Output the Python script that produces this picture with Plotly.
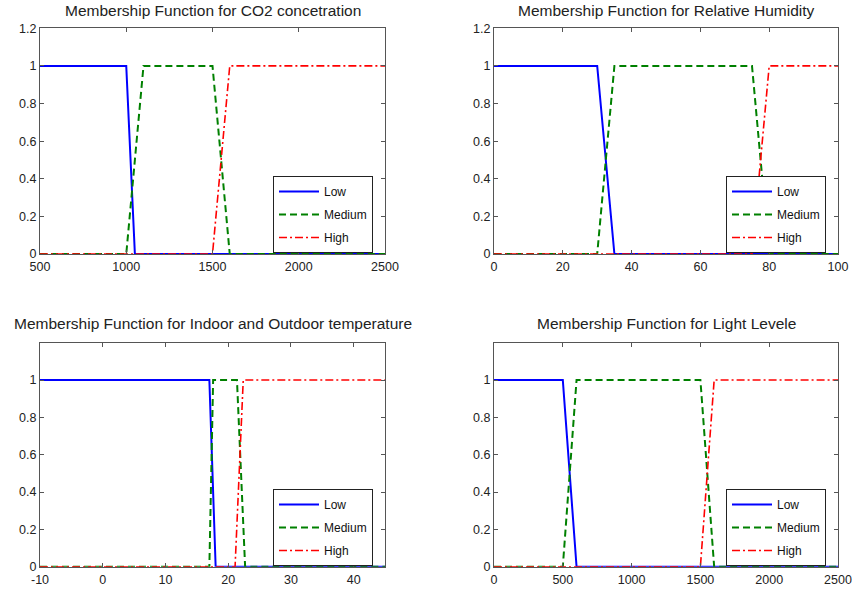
import plotly.graph_objects as go

# ---------------- data ----------------
titles = [
    "Membership Function for CO2 concetration",
    "Membership Function for Relative Humidity",
    "Membership Function for Indoor and Outdoor temperature",
    "Membership Function for Light Levele",
]
series_names = ["Low", "Medium", "High"]

# CO2 concentration
co2_low_x = [500, 1000, 1050, 2500]
co2_low_y = [1, 1, 0, 0]
co2_med_x = [500, 1000, 1100, 1500, 1600, 2500]
co2_med_y = [0, 0, 1, 1, 0, 0]
co2_high_x = [500, 1500, 1600, 2500]
co2_high_y = [0, 0, 1, 1]

# Relative humidity
rh_low_x = [0, 30, 35, 100]
rh_low_y = [1, 1, 0, 0]
rh_med_x = [0, 30, 35, 75, 80, 100]
rh_med_y = [0, 0, 1, 1, 0, 0]
rh_high_x = [0, 75, 80, 100]
rh_high_y = [0, 0, 1, 1]

# Indoor / outdoor temperature
t_low_x = [-10, 17, 18, 45]
t_low_y = [1, 1, 0, 0]
t_med_x = [-10, 17, 17.6, 21.4, 22.7, 45]
t_med_y = [0, 0, 1, 1, 0, 0]
t_high_x = [-10, 21.1, 22.4, 45]
t_high_y = [0, 0, 1, 1]

# Light level
l_low_x = [0, 500, 600, 2500]
l_low_y = [1, 1, 0, 0]
l_med_x = [0, 500, 600, 1500, 1600, 2500]
l_med_y = [0, 0, 1, 1, 0, 0]
l_high_x = [0, 1500, 1600, 2500]
l_high_y = [0, 0, 1, 1]

x_ranges = [[500, 2500], [0, 100], [-10, 45], [0, 2500]]
x_ticks = [
    [500, 1000, 1500, 2000, 2500],
    [0, 20, 40, 60, 80, 100],
    [-10, 0, 10, 20, 30, 40],
    [0, 500, 1000, 1500, 2000, 2500],
]
y_ticks_top = [0, 0.2, 0.4, 0.6, 0.8, 1, 1.2]
y_ticks_bottom = [0, 0.2, 0.4, 0.6, 0.8, 1]

panels = [
    [(co2_low_x, co2_low_y), (co2_med_x, co2_med_y), (co2_high_x, co2_high_y)],
    [(rh_low_x, rh_low_y), (rh_med_x, rh_med_y), (rh_high_x, rh_high_y)],
    [(t_low_x, t_low_y), (t_med_x, t_med_y), (t_high_x, t_high_y)],
    [(l_low_x, l_low_y), (l_med_x, l_med_y), (l_high_x, l_high_y)],
]

# ---------------- layout geometry ----------------
W, H = 852, 597
ML, MR, MT, MB = 20, 12, 22, 22
IW, IH = W - ML - MR, H - MT - MB

def px_x(p):
    return (p - ML) / IW
def px_y(p):
    return (H - MB - p) / IH

x_doms = [(40, 385), (494, 838), (40, 385), (494, 838)]
y_doms = [(28.3, 254), (28.3, 254), (342.7, 566.7), (342.7, 566.7)]

styles = [
    dict(color="#0000FF", width=2, dash="solid"),
    dict(color="#008000", width=2, dash="7px,4px"),
    dict(color="#FF0000", width=1.6, dash="8px,3px,2px,3px"),
]

fig = go.Figure()
axis_color = "#555555"
font_fam = "Liberation Sans, Arial, sans-serif"

def fmt(v):
    return str(int(v)) if float(v).is_integer() else str(v)

for i, panel in enumerate(panels):
    xa = "x" if i == 0 else f"x{i+1}"
    ya = "y" if i == 0 else f"y{i+1}"
    lg = "legend" if i == 0 else f"legend{i+1}"
    for j, (xs, ys) in enumerate(panel):
        fig.add_trace(go.Scatter(
            x=xs, y=ys, mode="lines", name=series_names[j],
            line=styles[j], xaxis=xa, yaxis=ya, legend=lg,
            legendgroup=f"g{i}_{j}",
        ))
    xd = x_doms[i]
    yd = y_doms[i]
    key = "" if i == 0 else str(i + 1)
    yt = y_ticks_top if i < 2 else y_ticks_bottom
    fig.layout["xaxis" + key] = dict(
        domain=[px_x(xd[0]), px_x(xd[1])], range=x_ranges[i],
        tickvals=x_ticks[i], ticktext=[fmt(v) for v in x_ticks[i]],
        ticks="inside", ticklen=4, tickcolor=axis_color,
        showline=True, linecolor=axis_color, linewidth=1, mirror="ticks",
        showgrid=False, zeroline=False, anchor=ya, automargin=False,
        ticklabelstandoff=1,
        tickfont=dict(size=12.5, color="#222222", family=font_fam),
    )
    fig.layout["yaxis" + key] = dict(
        domain=[px_y(yd[1]), px_y(yd[0])], range=[0, 1.2],
        tickvals=yt, ticktext=[fmt(v) for v in yt],
        ticks="inside", ticklen=4, tickcolor=axis_color,
        showline=True, linecolor=axis_color, linewidth=1, mirror="ticks",
        showgrid=False, zeroline=False, anchor=xa, automargin=False,
        tickfont=dict(size=12.5, color="#222222", family=font_fam),
    )
    lx = (273 if i % 2 == 0 else 726)
    ly = (176 if i < 2 else 489)
    fig.layout[lg] = dict(
        x=px_x(lx), y=px_y(ly), xanchor="left", yanchor="top",
        bgcolor="white", bordercolor="#222222", borderwidth=1,
        font=dict(size=12, color="#111111", family=font_fam),
        tracegroupgap=4, itemwidth=40,
    )
    cx = (xd[0] + xd[1]) / 2
    ty = 11 if i < 2 else 323
    fig.add_annotation(
        text=titles[i], x=px_x(cx), y=px_y(ty), xref="paper", yref="paper",
        xanchor="center", yanchor="middle", showarrow=False,
        font=dict(size=15.5, color="#222222", family=font_fam),
    )

fig.update_layout(
    width=W, height=H, margin=dict(l=ML, r=MR, t=MT, b=MB, autoexpand=False),
    paper_bgcolor="white", plot_bgcolor="white", showlegend=True,
)

fig.write_html(
    "out.html",
    config={"displayModeBar": False},
    post_script="document.body.style.margin='0px';document.body.style.overflow='hidden';",
)
